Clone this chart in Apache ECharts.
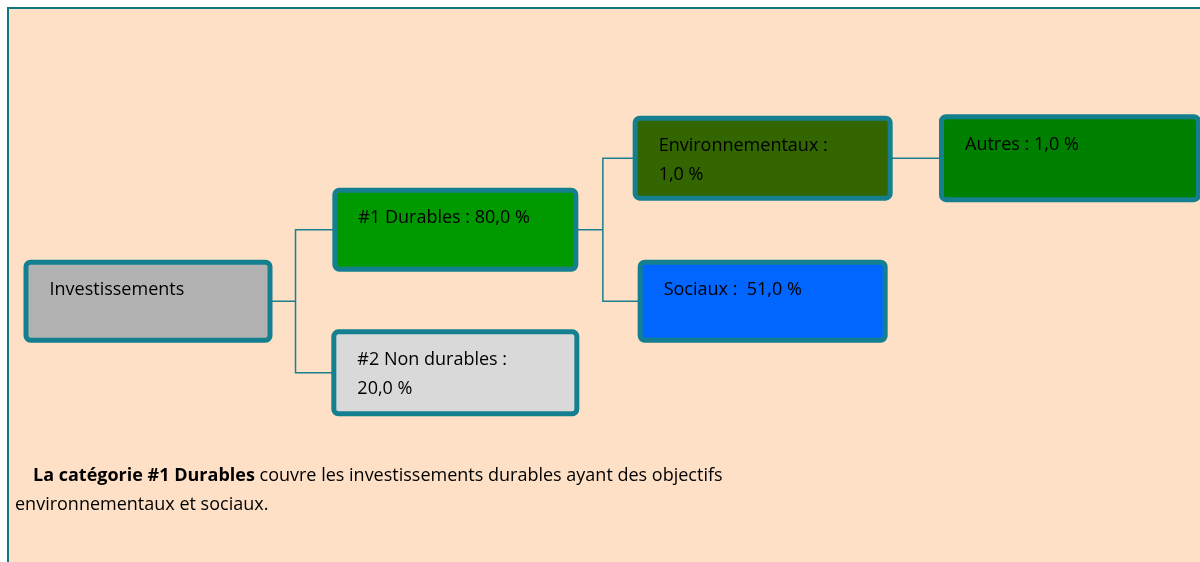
<!DOCTYPE html>
<html><head><meta charset="utf-8">
<script src="https://cdn.jsdelivr.net/npm/echarts@6/dist/echarts.min.js"></script>
<style>html,body{margin:0;padding:0;background:#fff}#c{width:1200px;height:562px}</style>
</head><body><div id="c"></div>
<script>
// ---- data ----
const rootLabel = 'Investissements';
const level1Labels = ['#1 Durables : 80,0 %', '#2 Non durables :\n20,0 %'];
const durablesChildren = ['Environnementaux :\n1,0 %', 'Sociaux :  51,0 %'];
const envChildren = ['Autres : 1,0 %'];
const noteBold = 'La catégorie #1 Durables';
const noteRest = ' couvre les investissements durables ayant des objectifs';
const noteLine2 = 'environnementaux et sociaux.';

// ---- styles ----
const FONT = '"Open Sans", sans-serif';
const BORDER = '#14808f';
const BW = 5, PAD_T = 11, PAD_L = 21, PAD_R = 6;
function node(name, fill, outer, children) {
  const w = outer[0] - BW, h = outer[1] - BW;
  const n = {
    name: name,
    symbolSize: [w, h],
    itemStyle: { color: fill, borderWidth: 0 },
    label: {
      show: true,
      position: [0, 0],
      align: 'left',
      verticalAlign: 'top',
      width: w - PAD_L - PAD_R,
      height: h - PAD_T,
      padding: [PAD_T, PAD_R, 0, PAD_L],
      backgroundColor: fill,
      borderColor: BORDER,
      borderWidth: BW,
      borderRadius: 2,
      color: '#000',
      fontFamily: FONT,
      fontSize: 18,
      lineHeight: 29,
      overflow: 'none'
    }
  };
  if (children) n.children = children;
  return n;
}
const treeData = node(rootLabel, '#b2b2b2', [244, 78], [
  node(level1Labels[0], '#009900', [241, 79], [
    node(durablesChildren[0], '#336600', [255, 80], [
      node(envChildren[0], '#008000', [257, 83])
    ]),
    node(durablesChildren[1], '#0066ff', [245, 78])
  ]),
  node(level1Labels[1], '#d9d9d9', [243, 82])
]);

const chart = echarts.init(document.getElementById('c'), null, { renderer: 'canvas' });
chart.setOption({
  animation: false,
  backgroundColor: '#ffffff',
  graphic: [
    { type: 'rect', z: -10, shape: { x: 8, y: 8, width: 1200, height: 560 },
      style: { fill: '#fde0c6', stroke: '#0e7a80', lineWidth: 2 } },
    { type: 'text', left: 33, top: 467, z: 10,
      style: { text: '{b|' + noteBold + '}{n|' + noteRest + '}',
        rich: { b: { fontFamily: FONT, fontSize: 18, fontWeight: 'bold', color: '#000' },
                n: { fontFamily: FONT, fontSize: 18, color: '#000' } } } },
    { type: 'text', left: 15, top: 496, z: 10,
      style: { text: noteLine2, font: '18px ' + FONT, fill: '#000' } }
  ],
  series: [{
    type: 'tree',
    data: [treeData],
    orient: 'LR',
    layout: 'orthogonal',
    left: 148, right: 130, top: 15, bottom: 46,
    symbol: 'rect',
    edgeShape: 'polyline',
    edgeForkPosition: '48%',
    initialTreeDepth: -1,
    expandAndCollapse: false,
    roam: false,
    lineStyle: { color: '#1a7f8f', width: 1.5, curveness: 0 },
    label: { show: true, position: [0, 0] },
    leaves: { label: { show: true, position: [0, 0] } },
    emphasis: { disabled: true }
  }]
});
</script></body></html>
